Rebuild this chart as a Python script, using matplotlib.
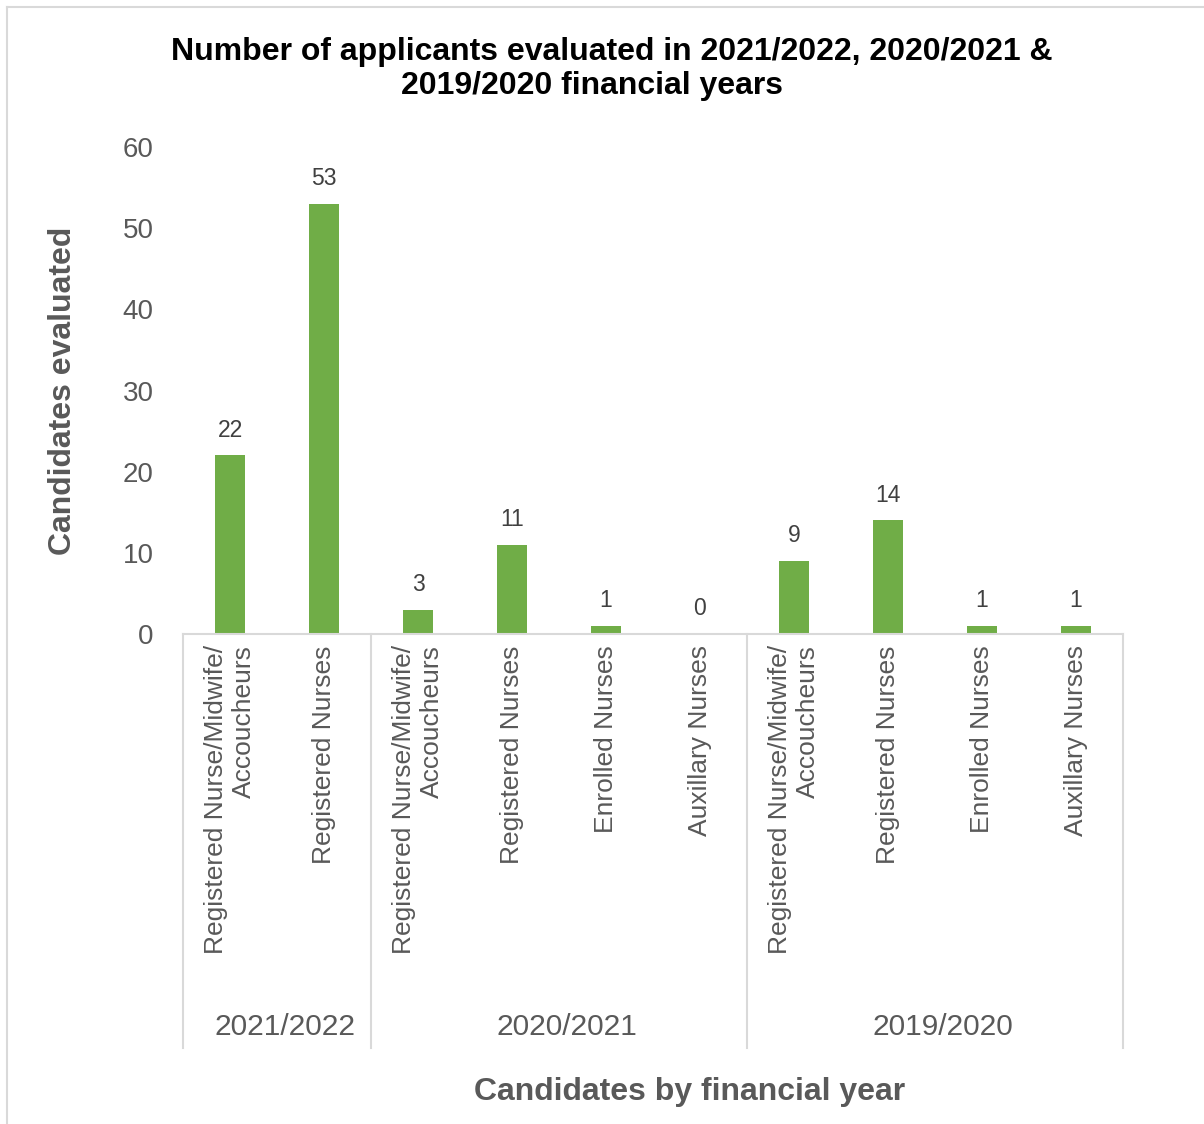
import matplotlib.pyplot as plt
from matplotlib.lines import Line2D

plt.rcParams['font.family'] = ['Liberation Sans', 'DejaVu Sans']

# Candidates evaluated per category, grouped by financial year
categories = [
    'Registered Nurse/Midwife/\nAccoucheurs', 'Registered Nurses',
    'Registered Nurse/Midwife/\nAccoucheurs', 'Registered Nurses',
    'Enrolled Nurses', 'Auxillary Nurses',
    'Registered Nurse/Midwife/\nAccoucheurs', 'Registered Nurses',
    'Enrolled Nurses', 'Auxillary Nurses',
]
values = [22, 53, 3, 11, 1, 0, 9, 14, 1, 1]
years = ['2021/2022', '2020/2021', '2019/2020']
group_sizes = [2, 4, 4]
title_lines = ['Number of applicants evaluated in 2021/2022, 2020/2021 &',
               '2019/2020 financial years']

BAR = '#70AD47'
GRID = '#D9D9D9'
TEXT = '#595959'

fig = plt.figure(figsize=(12.04, 11.24), dpi=100)
ax = fig.add_axes([0.152, 0.4359, 0.7807, 0.4333])

x = list(range(len(values)))
bars = ax.bar(x, values, width=0.32, color=BAR, zorder=2)
for rect, v in zip(bars, values):
    ax.annotate(str(v), (rect.get_x() + rect.get_width() / 2, v),
                xytext=(0, 10), textcoords='offset points',
                ha='center', va='bottom', fontsize=16.5, color='#404040')

ax.set_xlim(-0.5, len(values) - 0.5)
ax.set_ylim(0, 60)
ax.set_yticks(range(0, 61, 10))
ax.tick_params(axis='y', length=0, pad=21, labelsize=20, labelcolor=TEXT)
ax.set_xticks(x)
ax.set_xticklabels(categories, rotation=90, multialignment='right',
                   fontsize=19, color=TEXT, linespacing=1.25)
ax.tick_params(axis='x', length=0, pad=8)

for side in ['left', 'right', 'top']:
    ax.spines[side].set_visible(False)
ax.spines['bottom'].set_color(GRID)
ax.spines['bottom'].set_linewidth(1.5)

# group separators and year labels under the category labels
trans = ax.get_xaxis_transform()
edge = -0.5
for yr, n in zip(years, group_sizes):
    ax.add_line(Line2D([edge, edge], [0, -0.85], transform=trans,
                       color=GRID, lw=1.5, clip_on=False))
    ax.text(edge + n / 2 + 0.08, -0.807, yr, transform=trans,
            ha='center', va='center', fontsize=21.5, color=TEXT)
    edge += n
ax.add_line(Line2D([edge, edge], [0, -0.85], transform=trans,
                   color=GRID, lw=1.5, clip_on=False))

ax.set_ylabel('Candidates evaluated', fontsize=23, fontweight='bold',
              color=TEXT)
ax.yaxis.set_label_coords(-0.112, 0.5)

fig.text(0.573, 1 - 1092 / 1124, 'Candidates by financial year',
         ha='center', va='center', fontsize=23, fontweight='bold', color=TEXT)

# title drawn line by line, each centred on its own
for line, (cx, cy) in zip(title_lines, [(612, 52), (592, 86)]):
    fig.text(cx / 1204, 1 - cy / 1124, line, ha='center', va='center',
             fontsize=23, fontweight='bold', color='black')

# chart area border (left and top edges)
fig.add_artist(Line2D([7 / 1204, 7 / 1204], [0, 1 - 7 / 1124],
                      transform=fig.transFigure, color=GRID, lw=1.5))
fig.add_artist(Line2D([7 / 1204, 1], [1 - 7 / 1124, 1 - 7 / 1124],
                      transform=fig.transFigure, color=GRID, lw=1.5))

fig.savefig('out.png', dpi=100)
